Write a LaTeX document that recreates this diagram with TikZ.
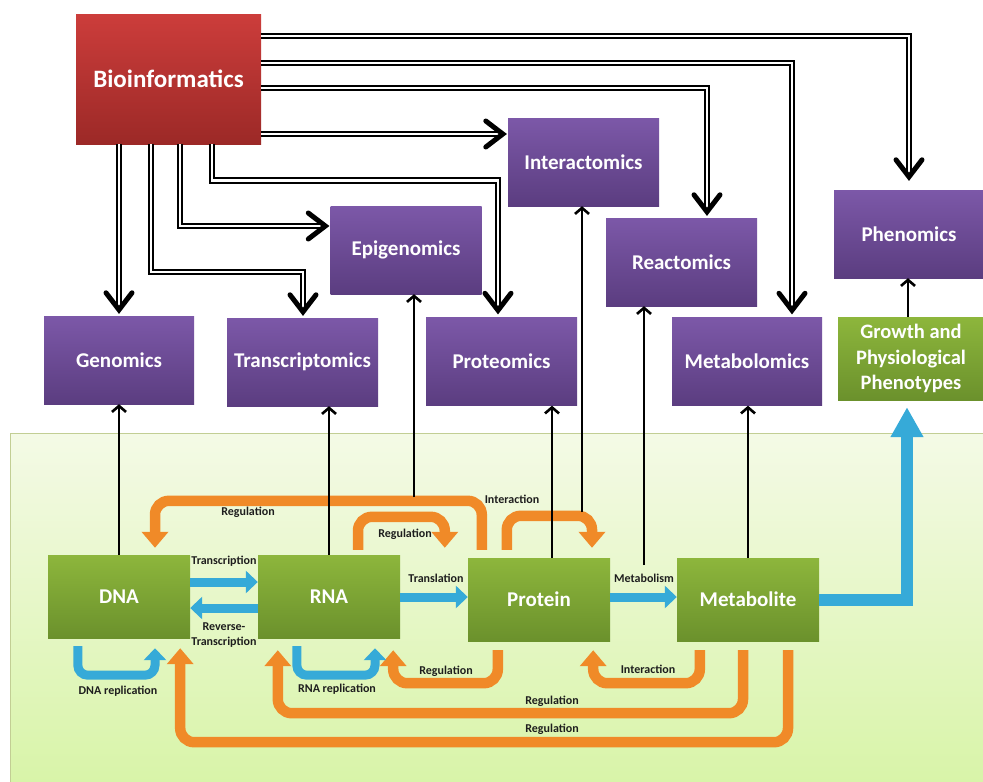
\documentclass[tikz,border=0pt]{standalone}
\usepackage{fontspec}
\setmainfont{Carlito}
\usetikzlibrary{arrows.meta,calc}
\definecolor{purT}{HTML}{7C58A8}
\definecolor{purB}{HTML}{5B3D80}
\definecolor{redT}{HTML}{CC3D3B}
\definecolor{redB}{HTML}{9C2927}
\definecolor{grnT}{HTML}{8DB63C}
\definecolor{grnB}{HTML}{6B912C}
\definecolor{orng}{HTML}{F08A28}
\definecolor{blu}{HTML}{36AAD8}
\definecolor{bgT}{HTML}{F4FAE6}
\definecolor{bgB}{HTML}{D8F4A8}
\definecolor{bgL}{HTML}{C2CE94}
\definecolor{lbl}{HTML}{1E1E1E}
\newcommand\chevD[1]{\draw[chev] ($(#1)+(-13,-17)$) -- (#1) -- ($(#1)+(13,-17)$);}
\newcommand\chevR[1]{\draw[chev] ($(#1)+(-17,-13)$) -- (#1) -- ($(#1)+(-17,13)$);}
\begin{document}
\begin{tikzpicture}[x=1pt,y=-1pt,
  box/.style={draw=none,text=white,align=center,inner sep=0pt},
  omics/.style={box,top color=purT,bottom color=purB,minimum width=151pt,minimum height=88pt,font=\fontsize{21}{24}\selectfont\bfseries},
  mol/.style={box,top color=grnT,bottom color=grnB,minimum width=142pt,minimum height=83pt,font=\fontsize{21}{24}\selectfont\bfseries},
  dbl/.style={draw=black,line width=2pt,double=white,double distance=2.6pt},
  chev/.style={draw=black,line width=5pt,line cap=round,line join=miter},
  up/.style={draw=black,line width=2.6pt,-{Straight Barb[length=6pt,width=14pt]}},
  org/.style={draw=orng,line width=10.5pt,rounded corners=14pt,-{Triangle[length=16pt,width=26pt]}},
  bl/.style={draw=blu,line width=9pt,rounded corners=10pt,-{Triangle[length=12pt,width=22pt]}},
  lab/.style={text=lbl,font=\fontsize{12}{13.5}\selectfont\bfseries,inner sep=0pt,align=center}]
\useasboundingbox (0,0) rectangle (983,782);
\fill[white] (0,0) rectangle (983,782);
% background region
\node[draw=bgL,line width=1pt,top color=bgT,bottom color=bgB,minimum width=985pt,minimum height=352pt,inner sep=0pt,anchor=north west] (bg) at (9.5,432.5) {};
% top boxes
\node[box,top color=redT,bottom color=redB,minimum width=185pt,minimum height=130pt,font=\fontsize{25}{28}\selectfont\bfseries] (bio) at (168.5,79) {Bioinformatics};
\node[omics] (inter) at (583.5,162) {Interactomics};
\node[omics] (epi) at (406,250) {Epigenomics};
\node[omics] (react) at (681.5,262) {Reactomics};
\node[omics,minimum width=150pt] (pheno) at (909,234) {Phenomics};
\node[omics,minimum width=150pt] (gen) at (119,360) {Genomics};
\node[omics] (trans) at (302.5,362) {Transcriptomics};
\node[omics] (prot) at (501.5,361.5) {Proteomics};
\node[omics,minimum width=150pt] (metab) at (747,361.5) {Metabolomics};
\node[box,top color=grnT,bottom color=grnB,minimum width=146pt,minimum height=83pt,font=\fontsize{20.5}{25.5}\selectfont\bfseries] (growth) at (911,358.5) {Growth and\\Physiological\\Phenotypes};
% bottom boxes
\node[mol] (dna) at (119,596.5) {DNA};
\node[mol] (rna) at (329,596.5) {RNA};
\node[mol] (protein) at (539,599.5) {Protein};
\node[mol] (metl) at (748,599.5) {Metabolite};
% double connectors from Bioinformatics
\coordinate (pT) at ($(pheno.north)+(0,-13)$);
\draw[dbl] (bio.east |- 0,36) -| (pT);
\chevD{pT}
\coordinate (mT) at ($(metab.north)+(45,-7)$);
\draw[dbl] (bio.east |- 0,63) -| (mT);
\chevD{mT}
\coordinate (rT) at ($(react.north)+(25.5,-6)$);
\draw[dbl] (bio.east |- 0,88) -| (rT);
\chevD{rT}
\coordinate (iT) at ($(inter.west |- 0,134)+(-5,0)$);
\draw[dbl] (bio.east |- 0,134) -- (iT);
\chevR{iT}
\coordinate (prT) at ($(prot.north)+(-3.5,-7)$);
\draw[dbl] ($(bio.south west)+(136,0)$) |- ($(prT)+(0,-130)$) -- (prT);
\chevD{prT}
\coordinate (eT) at ($(epi.west)+(-5,-24)$);
\draw[dbl] ($(bio.south west)+(104,0)$) |- (eT);
\chevR{eT}
\coordinate (tT) at ($(trans.north)+(0.5,-6)$);
\draw[dbl] ($(bio.south west)+(75,0)$) |- ($(tT)+(0,-40)$) -- (tT);
\chevD{tT}
\coordinate (gT) at ($(gen.north)+(0,-6)$);
\draw[dbl] (bio.south -| gT) -- (gT);
\chevD{gT}
% orange arrows
\draw[org] ($(protein.north west)+(14,-8)$) -- ++(0,-49) -| ($(dna.north)+(36,-7)$);
\draw[org] ($(rna.north)+(29,-5)$) -- ++(0,-33) -| ($(protein.north west)+(-23,-10)$);
\draw[org] ($(protein.north west)+(39,-8)$) -- ++(0,-34) -| ($(protein.north)+(53,-10)$);
\draw[org] ($(protein.south west)+(30,9)$) -- ++(0,33) -| ($(rna.south east)+(-7,12)$);
\draw[org] ($(metl.south west)+(23,9)$) -- ++(0,33) -| ($(protein.south east)+(-17,9)$);
\draw[org] ($(metl.south)+(-5,9)$) -- ++(0,63) -| ($(rna.south west)+(20,12)$);
\draw[org] ($(metl.south)+(40,9)$) -- ++(0,92) -| ($(dna.south east)+(-10,10)$);
% blue arrows
\draw[bl] (dna.east |- 0,582) -- (rna.west |- 0,582);
\draw[bl] (rna.west |- 0,608) -- (dna.east |- 0,608);
\draw[bl] (rna.east |- 0,597) -- (protein.west |- 0,597);
\draw[bl] (protein.east |- 0,597) -- (metl.west |- 0,597);
\draw[bl] ($(dna.south west)+(30,8)$) -- ++(0,29) -| ($(dna.south)+(36,10)$);
\draw[bl] ($(rna.south west)+(39,8)$) -- ++(0,29) -| ($(rna.south)+(46,10)$);
\coordinate (gB) at ($(growth.south)+(-4,7)$);
\draw[draw=blu,line width=12pt,-{Triangle[length=30pt,width=31pt]}] (metl.east |- 0,600) -| (gB);
% thin arrows to omics
\draw[up] (dna.north) -- (gen.south);
\draw[up] (rna.north) -- (rna.north |- trans.south);
\coordinate (eB) at (414,497);
\draw[up] (eB) -- (eB |- epi.south);
\coordinate (pN) at ($(protein.north)+(13,0)$);
\draw[up] (pN) -- (pN |- prot.south);
\coordinate (iB) at (582,512);
\draw[up] (iB) -- (iB |- inter.south);
\coordinate (rB) at (644,565);
\draw[up] (rB) -- (rB |- react.south);
\draw[up] (metl.north) -- (metl.north |- metab.south);
\coordinate (gN) at ($(growth.north)+(-3,0)$);
\draw[up] (gN) -- (gN |- pheno.south);
% labels
\node[lab] (l1) at (248,512) {Regulation};
\node[lab] (l2) at (405,534) {Regulation};
\node[lab] (l3) at (512,499) {Interaction};
\node[lab] (l4) at (446,671) {Regulation};
\node[lab] (l5) at (648,669) {Interaction};
\node[lab] (l6) at (552,701) {Regulation};
\node[lab] (l7) at (552,729) {Regulation};
\node[lab] (l8) at (224,561) {Transcription};
\node[lab,font=\fontsize{12}{14.5}\selectfont\bfseries] (l9) at (224,635) {Reverse-\\Transcription};
\node[lab] (l10) at (436,578) {Translation};
\node[lab] (l11) at (644,578) {Metabolism};
\node[lab] (l12) at (118,691) {DNA replication};
\node[lab] (l13) at (337,689) {RNA replication};
\end{tikzpicture}
\end{document}
